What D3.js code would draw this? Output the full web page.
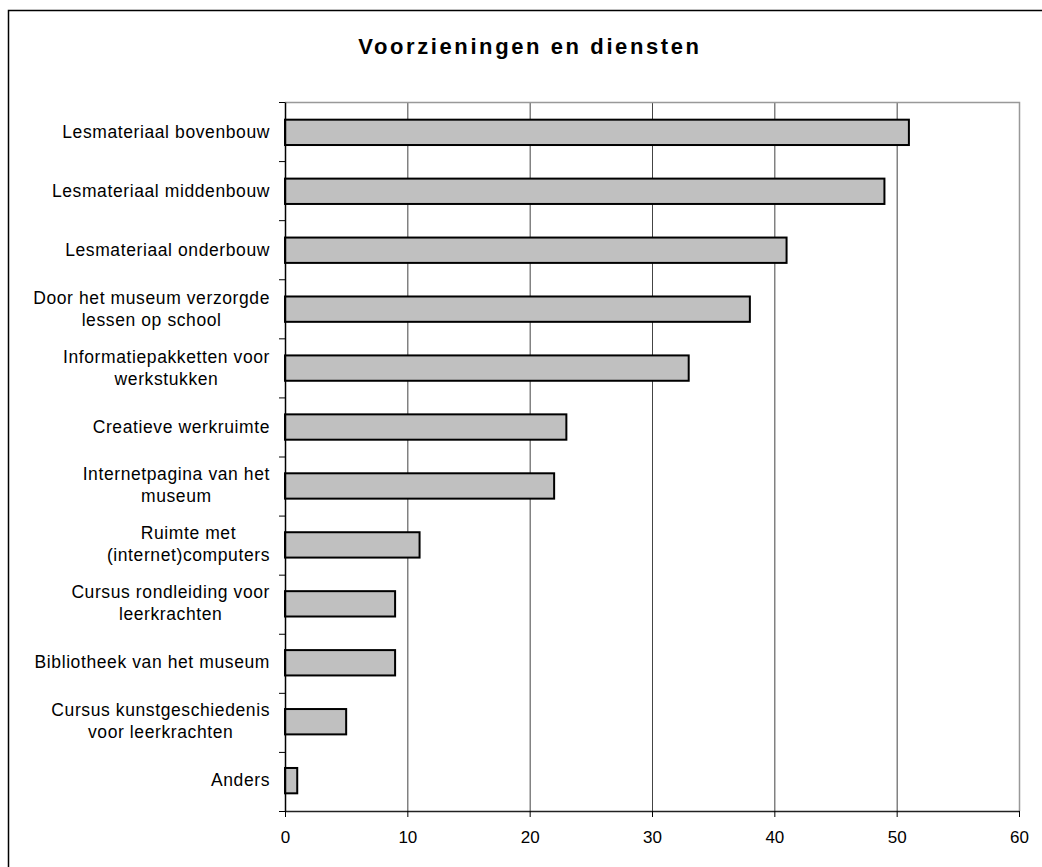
<!DOCTYPE html>
<html><head><meta charset="utf-8">
<script src="https://cdn.jsdelivr.net/npm/d3@7"></script>
<style>body{margin:0;background:#fff}svg{display:block}</style>
</head><body>
<script>
const title = "Voorzieningen en diensten";
const categories = [
  ["Lesmateriaal bovenbouw"],
  ["Lesmateriaal middenbouw"],
  ["Lesmateriaal onderbouw"],
  ["Door het museum verzorgde", "lessen op school"],
  ["Informatiepakketten voor", "werkstukken"],
  ["Creatieve werkruimte"],
  ["Internetpagina van het", "museum"],
  ["Ruimte met", "(internet)computers"],
  ["Cursus rondleiding voor", "leerkrachten"],
  ["Bibliotheek van het museum"],
  ["Cursus kunstgeschiedenis", "voor leerkrachten"],
  ["Anders"]
];
const values = [51, 49, 41, 38, 33, 23, 22, 11, 9, 9, 5, 1];
const xTicks = [0, 10, 20, 30, 40, 50, 60];

const W = 1042, H = 867;
const svg = d3.select("body").append("svg").attr("width", W).attr("height", H);
svg.append("rect").attr("x", 8.5).attr("y", 10.5).attr("width", 1040).attr("height", 870)
  .attr("fill", "#fff").attr("stroke", "#000").attr("stroke-width", 1.5);

const m = {l: 285, r: 1019, t: 102, b: 811};
const x = d3.scaleLinear().domain([0, 60]).range([m.l, m.r]);
const idx = d3.range(categories.length);
const y = d3.scaleBand().domain(idx).range([m.t, m.b]).paddingInner(0.57).paddingOuter(0.3);
const yb = d3.scaleLinear().domain([0, categories.length]).range([m.t, m.b]);

// gridlines
svg.append("g").selectAll("line").data(xTicks.slice(1, -1)).join("line")
  .attr("x1", d => x(d) + 0.5).attr("x2", d => x(d) + 0.5)
  .attr("y1", m.t).attr("y2", m.b).attr("stroke", "#444").attr("stroke-width", 1);

// plot border top & right
svg.append("path").attr("d", `M${m.l},${m.t + 0.5}H${m.r + 0.5}V${m.b}`)
  .attr("fill", "none").attr("stroke", "#999").attr("stroke-width", 1.5);

// bars
svg.append("g").selectAll("rect").data(values).join("rect")
  .attr("x", x(0)).attr("y", (d, i) => y(i))
  .attr("width", d => x(d) - x(0)).attr("height", y.bandwidth())
  .attr("fill", "#c0c0c0").attr("stroke", "#000").attr("stroke-width", 2);

// x axis
const xa = svg.append("g").attr("transform", `translate(0,${m.b})`)
  .call(d3.axisBottom(x).tickValues(xTicks).tickSize(6).tickPadding(14).tickSizeOuter(0));
xa.select(".domain").attr("stroke", "#222").attr("stroke-width", 1.5);
xa.selectAll(".tick line").attr("stroke", "#000");
xa.selectAll("text").attr("font-family", "Liberation Sans, Arial, sans-serif")
  .attr("font-size", 17).attr("fill", "#000");

// y axis
const ya = svg.append("g").attr("transform", `translate(${m.l},0)`)
  .call(d3.axisLeft(yb).tickValues(d3.range(categories.length + 1)).tickSize(6).tickFormat("").tickSizeOuter(0));
ya.select(".domain").attr("stroke", "#000").attr("stroke-width", 1.5);
ya.selectAll(".tick line").attr("stroke", "#000");

// category labels
const lab = svg.append("g").attr("font-family", "Liberation Sans, Arial, sans-serif")
  .attr("font-size", 17.5).attr("text-anchor", "end").attr("fill", "#000")
  .attr("letter-spacing", 0.6);
categories.forEach((lines, i) => {
  const cy = y(i) + y.bandwidth() / 2;
  const lh = 22;
  const t = lab.append("text").attr("x", 270);
  lines.forEach((s, j) => {
    t.append("tspan").attr("x", 270)
      .attr("y", cy + (j - (lines.length - 1) / 2) * lh + 5.5).text(s);
  });
  if (lines.length > 1) {
    const tsp = t.selectAll("tspan").nodes();
    const widths = tsp.map(n => n.getComputedTextLength());
    const maxW = Math.max(...widths);
    tsp.forEach(n => {
      d3.select(n).attr("text-anchor", "middle").attr("x", 270 - maxW / 2);
    });
  }
});

// title
svg.append("text").attr("x", 530).attr("y", 54).attr("text-anchor", "middle")
  .attr("font-family", "Liberation Sans, Arial, sans-serif").attr("font-weight", "bold")
  .attr("font-size", 22).attr("letter-spacing", 2.6).text(title);
</script>
</body></html>
